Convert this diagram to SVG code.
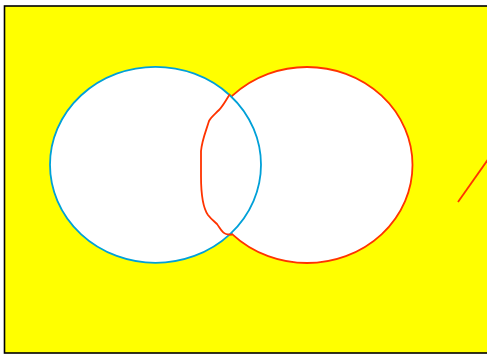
<svg xmlns="http://www.w3.org/2000/svg" width="487" height="354" viewBox="0 0 487 354">
<style>
.bg{fill:#ffff00;stroke:#000;stroke-width:1.6}
.c{fill:#fff;stroke-width:1.8}
.blue{stroke:#00a0d8}
.red{stroke:#ff3300;fill:none;stroke-width:1.8}
</style>
<rect class="bg" x="4.5" y="6" width="490" height="347"/>
<g id="circleB"><ellipse class="c" cx="307" cy="165" rx="105.5" ry="98" stroke="#ff3300"/></g>
<g id="circleA"><ellipse class="c blue" cx="155.5" cy="164.8" rx="105.5" ry="98"/></g>
<g id="connectors">
<path class="red" d="M230,94 C226,100 223,106 219,110 C214,115 211,117 209,121 C206,131 202,140 201,151 L201,176 C201,196 203,208 208,215 C211,219 215,222 217,224 C220,228 222,233 226,234 C229,235 230,234 232,235"/>
<path class="red" d="M458,202 L488,159.5"/>
</g>
</svg>
